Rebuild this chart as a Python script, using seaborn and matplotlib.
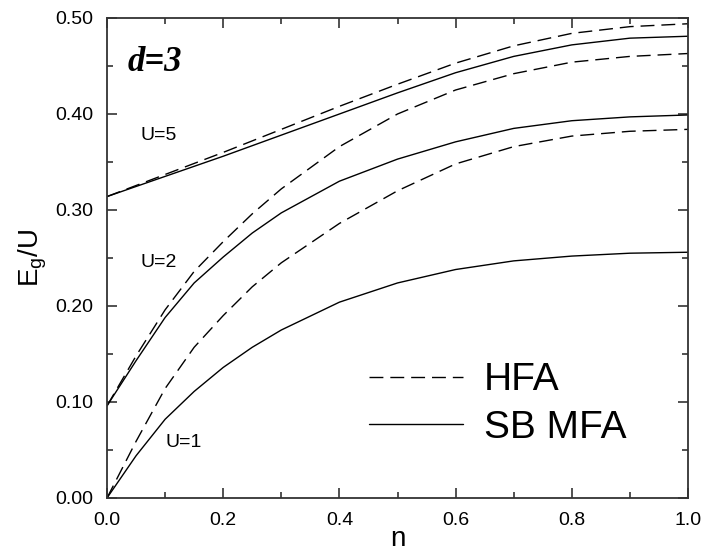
import matplotlib
matplotlib.use("Agg")
import matplotlib.pyplot as plt
import seaborn as sns
import pandas as pd
from matplotlib.ticker import MultipleLocator, FormatStrFormatter
from matplotlib.lines import Line2D

# ---- data ----
n_vals = [0.0, 0.05, 0.1, 0.15, 0.2, 0.25, 0.3, 0.4, 0.5, 0.6, 0.7, 0.8, 0.9, 1.0]

hfa_u1 = [0.000, 0.059, 0.114, 0.157, 0.190, 0.220, 0.245, 0.286, 0.320, 0.348, 0.366, 0.377, 0.382, 0.384]
sb_u1  = [0.000, 0.044, 0.082, 0.111, 0.136, 0.157, 0.175, 0.204, 0.224, 0.238, 0.247, 0.252, 0.255, 0.256]
hfa_u2 = [0.096, 0.148, 0.196, 0.236, 0.267, 0.296, 0.322, 0.366, 0.400, 0.425, 0.442, 0.454, 0.460, 0.463]
sb_u2  = [0.096, 0.143, 0.188, 0.224, 0.251, 0.276, 0.297, 0.330, 0.353, 0.371, 0.385, 0.393, 0.397, 0.399]
hfa_u5 = [0.314, 0.3255, 0.337, 0.3485, 0.360, 0.372, 0.384, 0.408, 0.431, 0.453, 0.471, 0.484, 0.491, 0.494]
sb_u5  = [0.314, 0.3245, 0.335, 0.3455, 0.356, 0.367, 0.378, 0.400, 0.422, 0.443, 0.460, 0.472, 0.479, 0.481]

methods = ["HFA", "SB MFA"]
u_labels = ["U=1", "U=2", "U=5"]
x_ticks = [0.0, 0.2, 0.4, 0.6, 0.8, 1.0]
y_ticks = [0.00, 0.10, 0.20, 0.30, 0.40, 0.50]

series = {
    ("HFA", "U=1"): hfa_u1, ("SB MFA", "U=1"): sb_u1,
    ("HFA", "U=2"): hfa_u2, ("SB MFA", "U=2"): sb_u2,
    ("HFA", "U=5"): hfa_u5, ("SB MFA", "U=5"): sb_u5,
}
rows = []
for (m, u), vals in series.items():
    for n, v in zip(n_vals, vals):
        rows.append({"n": n, "Eg": v, "method": m, "U": u})
df = pd.DataFrame(rows)

sns.set_style("ticks")
plt.rcParams["font.family"] = ["Liberation Sans", "DejaVu Sans"]
plt.rcParams["text.color"] = "black"
plt.rcParams["axes.labelcolor"] = "black"
plt.rcParams["xtick.labelcolor"] = "black"
plt.rcParams["ytick.labelcolor"] = "black"

fig = plt.figure(figsize=(7.03, 5.53), dpi=100)
ax = fig.add_axes([107 / 703, 55 / 553, 581 / 703, 480 / 553])

DASH = (10, 5)
sns.lineplot(data=df, x="n", y="Eg", units="U", style="method", estimator=None,
             color="black", linewidth=1.0, style_order=methods,
             dashes={"HFA": DASH, "SB MFA": ""}, ax=ax, legend=False, sort=True)

ax.set_xlim(0, 1)
ax.set_ylim(0, 0.5)
ax.set_xticks(x_ticks)
ax.set_yticks(y_ticks)
ax.xaxis.set_minor_locator(MultipleLocator(0.1))
ax.yaxis.set_minor_locator(MultipleLocator(0.05))
ax.xaxis.set_major_formatter(FormatStrFormatter("%.1f"))
ax.yaxis.set_major_formatter(FormatStrFormatter("%.2f"))
ax.tick_params(which="both", direction="in", top=True, right=True, labelsize=14,
               color="#333333", width=1.2, labelcolor="black")
ax.tick_params(which="major", length=7)
ax.tick_params(axis="x", which="major", pad=10)
ax.tick_params(axis="y", which="major", pad=10)
ax.tick_params(which="minor", length=4)
for s in ax.spines.values():
    s.set_linewidth(1.3)
    s.set_color("#333333")

ax.set_xlabel("n", fontsize=20, labelpad=-2)
ax.set_ylabel(r"E$_\mathregular{g}$/U", fontsize=20, labelpad=4)

ax.text(0.036, 0.908, "d=3", transform=ax.transAxes, fontsize=25, fontweight="bold",
        fontstyle="italic", family=["Liberation Serif", "DejaVu Serif"], va="center", ha="left")
ax.text(0.057, 0.756, "U=5", transform=ax.transAxes, fontsize=14, va="center", ha="left")
ax.text(0.057, 0.490, "U=2", transform=ax.transAxes, fontsize=14, va="center", ha="left")
ax.text(0.101, 0.115, "U=1", transform=ax.transAxes, fontsize=14, va="center", ha="left")

handles = [Line2D([], [], color="black", lw=1.0, dashes=DASH),
           Line2D([], [], color="black", lw=1.0)]
leg = ax.legend(handles, methods, frameon=False, fontsize=28, loc="upper left",
                bbox_to_anchor=(0.425, 0.315), handlelength=2.4, handletextpad=0.55,
                labelspacing=0.3, borderaxespad=0)

fig.savefig("out.png", dpi=100)
